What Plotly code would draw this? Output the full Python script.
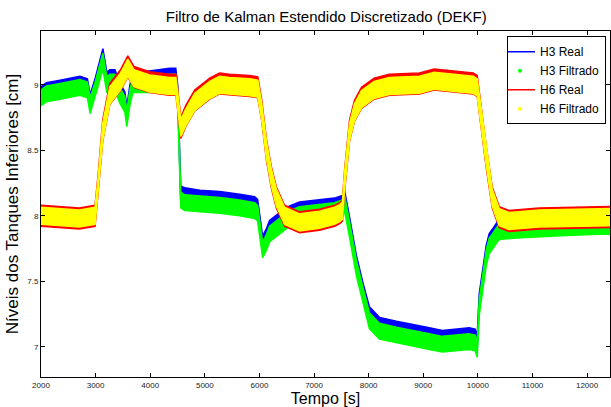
import numpy as np
import plotly.graph_objects as go

# ---- data (time [s], level [cm]) ----
h6_t = [2000, 2350, 2700, 2990, 3050, 3130, 3260, 3450, 3590, 3700, 3990, 4350, 4470,
        4500, 4560, 4650, 4815, 5090, 5270, 5450, 5820, 5970, 6040, 6130, 6220, 6310,
        6460, 6735, 7100, 7375, 7470, 7520, 7560, 7650, 7740, 7870, 8100, 8380, 8930,
        9200, 9660, 9915, 9988, 10153, 10263, 10391, 10570, 11120, 12420]
h6_real = [8.0, 7.99, 7.98, 8.0, 8.25, 8.65, 8.93, 9.03, 9.14, 9.06, 9.02, 9.0, 9.0,
           8.9, 8.67, 8.76, 8.88, 8.97, 9.01, 9.0, 8.99, 8.98, 8.81, 8.5, 8.29, 8.14,
           8.0, 7.95, 7.97, 8.0, 8.02, 8.04, 8.27, 8.65, 8.8, 8.9, 8.97, 9.0, 9.01,
           9.04, 9.02, 9.01, 8.99, 8.45, 8.14, 7.99, 7.96, 7.98, 7.99]
h6_filt = [8.0, 7.99, 7.98, 8.0, 8.24, 8.64, 8.92, 9.02, 9.13, 9.05, 9.01, 8.99, 8.99,
           8.89, 8.67, 8.75, 8.87, 8.96, 9.0, 8.99, 8.98, 8.97, 8.8, 8.5, 8.29, 8.14,
           8.0, 7.95, 7.97, 8.0, 8.02, 8.04, 8.27, 8.64, 8.79, 8.89, 8.96, 8.99, 9.0,
           9.03, 9.01, 9.0, 8.98, 8.45, 8.14, 7.99, 7.96, 7.98, 7.99]

h3_t = [2000, 2100, 2350, 2713, 2850, 2900, 2990, 3080, 3133, 3206, 3261, 3353, 3444,
        3536, 3572, 3627, 3682, 3810, 3993, 4358, 4468, 4504, 4559, 4632, 4907, 5272,
        5638, 5912, 5967, 6040, 6058, 6131, 6186, 6369, 6552, 6735, 7100, 7374, 7521,
        7557, 7649, 7777, 7886, 8014, 8197, 8508, 9111, 9349, 9842, 9950, 9988, 10025,
        10153, 10208, 10263, 10391, 10702, 10994, 11615, 12219, 12420]
h3_filt = [8.9, 8.93, 8.95, 8.98, 8.96, 8.84, 8.96, 9.1, 9.18, 9.0, 9.02, 9.02, 8.92,
           8.85, 8.74, 8.9, 9.0, 9.0, 9.0, 9.02, 9.02, 8.9, 8.12, 8.1, 8.09, 8.08,
           8.06, 8.04, 8.02, 7.8, 7.74, 7.8, 7.86, 7.92, 7.98, 8.01, 8.03, 8.04, 8.06,
           8.1, 7.9, 7.6, 7.41, 7.2, 7.12, 7.09, 7.04, 7.02, 7.04, 7.03, 6.98, 7.3,
           7.68, 7.77, 7.8, 7.88, 7.89, 7.9, 7.91, 7.92, 7.92]
h3_real = [8.93, 8.96, 8.98, 9.01, 8.99, 8.87, 8.99, 9.14, 9.22, 9.04, 9.06, 9.06, 8.96,
           8.89, 8.78, 8.94, 9.04, 9.04, 9.05, 9.07, 9.07, 8.94, 8.17, 8.16, 8.14, 8.13,
           8.11, 8.09, 8.07, 7.85, 7.79, 7.85, 7.91, 7.97, 8.02, 8.05, 8.07, 8.08, 8.1,
           8.14, 7.94, 7.64, 7.45, 7.25, 7.17, 7.14, 7.09, 7.07, 7.09, 7.08, 7.03, 7.35,
           7.72, 7.81, 7.84, 7.92, 7.93, 7.94, 7.95, 7.96, 7.96]

# noise amplitude (half band) of each signal, cm
noise_h3_real, noise_h3_filt = 0.055, 0.06
noise_h6_real, noise_h6_filt = 0.08, 0.065

x_ticks = [2000, 3000, 4000, 5000, 6000, 7000, 8000, 9000, 10000, 11000, 12000]
y_ticks = [7, 7.5, 8, 8.5, 9]


def band(t, c, a):
    t = np.asarray(t, float)
    c = np.asarray(c, float)
    return (np.concatenate([t, t[::-1]]),
            np.concatenate([c + a, (c - a)[::-1]]))


fig = go.Figure()
series = [
    (h3_t, h3_real, noise_h3_real, "#0000ff"),
    (h3_t, h3_filt, noise_h3_filt, "#00ff00"),
    (h6_t, h6_real, noise_h6_real, "#ff0000"),
    (h6_t, h6_filt, noise_h6_filt, "#ffff00"),
]
for t, c, a, col in series:
    bx, by = band(t, c, a)
    fig.add_trace(go.Scatter(x=bx, y=by, mode="lines", fill="toself", fillcolor=col,
                             line=dict(color=col, width=1.5), showlegend=False,
                             hoverinfo="skip"))

# legend entries
fig.add_trace(go.Scatter(x=[None], y=[None], mode="lines", name="H3 Real",
                         line=dict(color="#0000ff", width=1.5)))
fig.add_trace(go.Scatter(x=[None], y=[None], mode="markers", name="H3 Filtrado",
                         marker=dict(color="#00ff00", size=4)))
fig.add_trace(go.Scatter(x=[None], y=[None], mode="lines", name="H6 Real",
                         line=dict(color="#ff0000", width=1.5)))
fig.add_trace(go.Scatter(x=[None], y=[None], mode="markers", name="H6 Filtrado",
                         marker=dict(color="#ffff00", size=4)))

axis_common = dict(showgrid=False, zeroline=False, showline=True, linecolor="black",
                   linewidth=1, mirror="ticks", ticks="inside", ticklen=4,
                   tickcolor="black", tickfont=dict(size=8, color="#222222"))

fig.update_layout(
    width=611, height=407,
    margin=dict(l=41, r=1, t=31, b=30),
    paper_bgcolor="white", plot_bgcolor="white",
    font=dict(family="Liberation Sans, Arial, sans-serif", color="black"),
    title=dict(text="Filtro de Kalman Estendido Discretizado (DEKF)", x=0.534,
               xanchor="center", y=0.96, yanchor="middle", font=dict(size=15)),
    xaxis=dict(range=[2000, 12420], tickvals=x_ticks,
               ticktext=[str(v) for v in x_ticks],
               title=dict(text="Tempo [s]", font=dict(size=16), standoff=2),
               **axis_common),
    yaxis=dict(range=[6.77, 9.41], tickvals=y_ticks,
               ticktext=["7", "7.5", "8", "8.5", "9"],
               title=dict(text="Níveis dos Tanques Inferiores [cm]", font=dict(size=17),
                          standoff=4),
               **axis_common),
    legend=dict(x=0.993, xanchor="right", y=0.985, yanchor="top",
                bordercolor="black", borderwidth=1, bgcolor="white",
                font=dict(size=12), tracegroupgap=0, itemwidth=30,
                indentation=-8),
)

fig.write_html("out.html")
